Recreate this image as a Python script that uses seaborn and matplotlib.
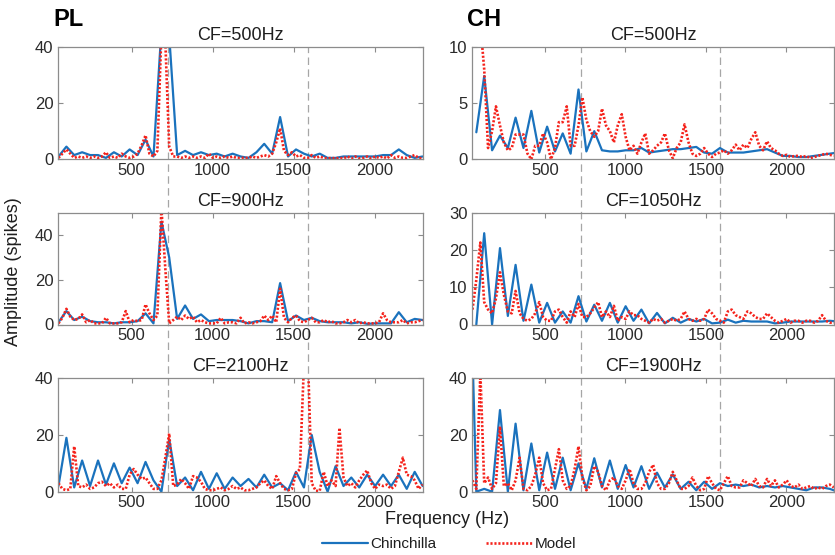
import numpy as np
import pandas as pd
import matplotlib
matplotlib.use("Agg")
import matplotlib.pyplot as plt
from matplotlib.lines import Line2D
import seaborn as sns

sns.set_theme(style="white")
plt.rcParams["font.family"] = ["Liberation Sans", "DejaVu Sans"]

# ---- frequency bins (Hz) ----
pl_chin_hz = [49, 98, 146, 195, 244, 293, 342, 391, 439, 488,
              537, 586, 635, 684, 732, 781, 830, 879, 928, 977,
              1025, 1074, 1123, 1172, 1221, 1270, 1318, 1367, 1416, 1465,
              1514, 1563, 1611, 1660, 1709, 1758, 1807, 1855, 1904, 1953,
              2002, 2051, 2100, 2148, 2197, 2246, 2295]

ch_chin_hz = [24, 73, 122, 171, 220, 269, 317, 366, 415, 464,
              513, 562, 610, 659, 708, 757, 806, 854, 903, 952,
              1001, 1050, 1099, 1147, 1196, 1245, 1294, 1343, 1392, 1440,
              1489, 1538, 1587, 1636, 1685, 1733, 1782, 1831, 1880, 1929,
              1978, 2026, 2075, 2124, 2173, 2222, 2270, 2319]

model_hz = [49, 73, 98, 122, 146, 171, 195, 220, 244, 269,
            293, 317, 342, 366, 391, 415, 439, 464, 488, 513,
            537, 562, 586, 610, 635, 659, 684, 708, 732, 757,
            781, 806, 830, 854, 879, 903, 928, 952, 977, 1001,
            1025, 1050, 1074, 1099, 1123, 1147, 1172, 1196, 1221, 1245,
            1270, 1294, 1318, 1343, 1367, 1392, 1416, 1440, 1465, 1489,
            1514, 1538, 1563, 1587, 1611, 1636, 1660, 1685, 1709, 1733,
            1758, 1782, 1807, 1831, 1855, 1880, 1904, 1929, 1953, 1978,
            2002, 2026, 2051, 2075, 2100, 2124, 2148, 2173, 2197, 2222,
            2246, 2270, 2295]

nan = np.nan

# ---- PL, CF = 500 Hz ----
pl500_chin = [1, 4.5, 1.5, 2.5, 1.5, 1.5, 0.5, 2.5, 1, 3.5,
              1.5, 7, 1, 46, 44, 1.5, 3, 1.5, 2.5, 1.5,
              2, 1, 2, 1, 0.5, 2.5, 5.5, 2, 15, 1,
              3.5, 2, 1, 2, 0.5, 0.5, 1, 1, 1, 1,
              1, 1.5, 1.5, 3.5, 1.5, 0.5, 1]
pl500_model = [0.5, 2, 3.5, 2, 0.5, 1, 0.5, 1, 0.5, 1,
               0.5, 1, 2.5, 0.5, 1, 0.5, 2, 1, 0.5, 1,
               2, 5, 8.5, 2, 1, 3, 45, 42, 4.5, 1,
               1, 0.5, 1, 0.5, 1, 0.5, 1, 0.5, 2, 0.5,
               1, 0.5, 1, 0.5, 1, 0.5, 0.5, 0.5, 0.5, 1,
               0.5, 1, 1.5, 1, 2, 6, 11, 3, 1.5, 2.5,
               1, 1.5, 0.5, 0.5, 1.5, 0.5, 1, 0.5, 0.3, 0.5,
               0.3, 0.5, 0.3, 1, 0.3, 1, 0.3, 0.5, 1, 0.3,
               1, 0.5, 1, 0.3, 1.5, 0.5, 1, 0.5, 0.5, 1,
               1.5, 0.5, 0.3]

# ---- PL, CF = 900 Hz ----
pl900_chin = [1, 6, 2, 3.5, 1.5, 1, 1, 0.5, 1, 1,
              1.5, 5, 0.5, 46, 30, 2.5, 8.5, 2.5, 4.5, 1.5,
              2, 2, 2, 1.5, 0.5, 1.5, 1.5, 1, 18.5, 1.5,
              4, 2, 3, 1.5, 1, 1, 1, 0.5, 1, 0.3,
              0.5, 0.5, 0.5, 5.5, 1, 2.5, 2]
pl900_model = [0.5, 3, 7, 3.5, 2, 2.5, 4.5, 1, 2, 0.5,
               0.5, 0.5, 3, 0.5, 0.5, 0.5, 1, 6, 1, 2,
               1.5, 2, 9, 5, 2, 4, 52, 25, 0.5, 2,
               3.5, 2, 4, 2.5, 3.5, 1, 2, 1, 0.5, 0.5,
               0.5, 3, 0.5, 1, 1, 0.5, 3, 0.5, 1, 0.5,
               1, 1.5, 4, 2, 4, 1, 16, 3, 1, 3,
               4, 1.5, 1, 2, 3, 1, 1, 2, 1, 1.5,
               0.5, 0.5, 1, 2, 1, 2, 0.5, 1, 0.5, 0.5,
               0.5, 1, 5, 2, 1, 1, 1, 2, 0.5, 1,
               1, 1.5, 2]

# ---- PL, CF = 2100 Hz ----
pl2100_chin = [2, 19, 1.5, 11, 2, 11, 2.5, 10, 3, 8.5,
               3, 10.5, 4, 0, 18.5, 2, 5, 0.5, 7, 1,
               6.5, 1, 5, 2, 4.5, 1.5, 6, 1.5, 3, 0.5,
               7, 1.5, 20, 7, 0, 9, 2, 5, 1.5, 6,
               2, 6, 2, 6, 1, 7, 2]
pl2100_model = [3, 1, 0.5, 1, 16, 2, 1.5, 2.5, 1, 1.5,
                3, 3.5, 2, 3, 1.5, 2.5, 1, 1, 6, 8,
                6, 4.5, 5, 3, 1, 1, 4, 12, 20.5, 2,
                2.5, 4.5, 3, 1, 5.5, 5, 3.5, 1, 0.5, 0.5,
                1, 1.5, 0.5, 1, 2, 1, 1.5, 0.5, 0.5, 1,
                1.5, 3, 4, 2, 1, 5.5, 3, 1, 0.5, 1,
                6.5, 8, 45, 48, 3, 0.3, 0.3, 7, 2, 4,
                2, 22.5, 5, 2, 3, 1.5, 4, 6, 7.5, 3,
                1, 2.5, 2, 2.5, 1, 2, 7, 12, 6, 5.5,
                4, 1, 2.5]

# ---- CH, CF = 500 Hz ----
ch500_chin = [nan, 2.4, 7.4, 0.8, 2.1, 1.0, 3.7, 1.0, 4.3, 0.6,
              2.9, 0.7, 2.3, 0.5, 6.2, 0.7, 2.5, 0.8, 0.7, 0.7,
              0.8, 0.8, 1.0, 0.6, 0.7, 0.8, 0.9, 0.9, 1.0, 1.1,
              0.6, 0.5, 1.0, 0.6, 0.6, 0.6, 0.7, 0.8, 0.9, 0.6,
              0.3, 0.3, 0.2, 0.2, 0.3, 0.4, 0.5, 0.6]
ch500_model = [nan, nan, 12, 8, 1, 2.5, 4.7, 3, 1.5, 0.8,
               1, 2.2, 2.2, 2.2, 0.5, 0, 1.2, 1.2, 2.3, 1.5,
               0, 1, 3.3, 3.3, 4.7, 1.2, 1.2, 3, 5.5, 3.5,
               2.5, 2, 2.5, 4.5, 3, 2.5, 1.5, 3, 4, 2,
               0.8, 1.2, 0.5, 1.5, 2.3, 0.5, 0.8, 1.2, 1.5, 2.3,
               0.8, 0.1, 1, 1.5, 3.1, 1.5, 0.5, 0.3, 0.5, 1,
               0.5, 0.2, 0.5, 0.6, 0.8, 0.5, 0.8, 1.3, 0.8, 1.3,
               1, 1.8, 2.4, 1.2, 0.8, 1.6, 1, 0.8, 0.5, 0.3,
               0.4, 0.2, 0.3, 0.3, 0.2, 0.3, 0.1, 0.2, 0.3, 0.4,
               0.5, 0.4, 0.3]

# ---- CH, CF = 1050 Hz ----
ch1050_chin = [nan, 0, 24.5, 0, 20.5, 2.3, 16, 1, 10.7, 0.5,
               5.8, 0.5, 3.5, 0.5, 7.6, 0.8, 5.3, 1, 5.8, 0.5,
               4.9, 1, 4, 0.3, 3.1, 0.3, 1.8, 0.5, 1.5, 0.8,
               1.5, 0.3, 0.5, 1.3, 0.5, 1, 0.8, 0.8, 0.8, 0.3,
               0.5, 0.8, 0.8, 0.8, 0.8, 0.8, 1, 0.8]
ch1050_model = [4, 12, 22, 6, 4, 3, 7, 14, 8, 3.5,
                3, 9, 3, 1.5, 1, 1.5, 3, 6, 2, 1,
                1, 3.5, 4, 2, 0.5, 3.5, 2, 5.5, 2, 2,
                3, 4.5, 6, 2, 3.5, 2, 5, 1, 2, 1.5,
                3.5, 2.5, 2.5, 1.5, 1, 0.5, 1.5, 1, 1.5, 0.5,
                1, 1.5, 1, 1.5, 3.5, 1.5, 1, 1.5, 1, 1.5,
                4, 3, 1.5, 1, 0.5, 3.5, 4, 2.5, 2, 1.5,
                3.5, 3, 2, 1.5, 1.5, 3, 2, 1, 0.5, 1,
                1.5, 0.5, 1, 1, 0.5, 1, 1, 0.5, 1, 2.5,
                1, 0.5, 0.5]

# ---- CH, CF = 1900 Hz ----
ch1900_chin = [100, 0, 1, 0, 28.8, 0, 24, 0.5, 17, 0.5,
               13.8, 1, 12, 0.5, 10, 1, 11.8, 1.5, 11, 1,
               9.4, 1.5, 9, 1, 6.7, 1.5, 6.1, 1, 3.5, 0.5,
               3.5, 1, 3, 2, 2.5, 2, 2.5, 1.5, 2, 1.5,
               2, 1.5, 1, 0.5, 1.5, 1.5, 1, 0]
ch1900_model = [4, 1, 42, 3, 5, 1, 3, 23, 2, 3,
                0.5, 4, 12, 1, 0.5, 2, 6, 12, 3, 0.5,
                1, 8, 15, 4, 1, 2, 8, 16, 5, 0.5,
                2, 9, 7, 2, 0.5, 4, 5, 2, 1, 4,
                8, 3, 1, 1, 3, 7, 9.5, 3, 1, 1,
                3, 7, 4, 1, 1, 2, 5, 2, 0.5, 1,
                5.5, 3, 1, 0.5, 3, 5.5, 2, 1.5, 1.5, 4,
                3, 2, 4.5, 2, 1.5, 4.5, 2, 4, 1.5, 2.5,
                4, 2, 1.5, 2.5, 1, 1.5, 2, 1, 1.5, 1,
                2, 2.5, 1.5]

titles = ["CF=500Hz", "CF=900Hz", "CF=2100Hz", "CF=500Hz", "CF=1050Hz", "CF=1900Hz"]
x_ticks = [500, 1000, 1500, 2000]
marker_hz = [725, 1590]

BLUE = "#1a72bd"
RED = "#f5221b"
SPINE = "#8c8c8c"
TXT = "#1e1e1e"
DOT = (0, (0.8, 0.7))
XLIM = (48, 2296)

W, H = 835, 555
fig = plt.figure(figsize=(W / 100, H / 100), dpi=100)
fig.patch.set_facecolor("white")

col_px = [(58.3, 364.5), (472.3, 361.7)]
row_px = [(46.7, 159.3), (212.7, 324.5), (378.3, 491.7)]

panels = [
    (0, 0, pl_chin_hz, pl500_chin, pl500_model, (0, 40), [0, 20, 40]),
    (0, 1, pl_chin_hz, pl900_chin, pl900_model, (0, 50), [0, 20, 40]),
    (0, 2, pl_chin_hz, pl2100_chin, pl2100_model, (0, 40), [0, 20, 40]),
    (1, 0, ch_chin_hz, ch500_chin, ch500_model, (0, 10), [0, 5, 10]),
    (1, 1, ch_chin_hz, ch1050_chin, ch1050_model, (0, 30), [0, 10, 20, 30]),
    (1, 2, ch_chin_hz, ch1900_chin, ch1900_model, (0, 40), [0, 20, 40]),
]

# dashed reference frequencies run through each whole column, behind the panels
for x0, w in col_px:
    top, bot = row_px[0][0], row_px[2][1]
    ov = fig.add_axes([x0 / W, 1 - bot / H, w / W, (bot - top) / H], zorder=1)
    ov.set_xlim(*XLIM)
    ov.set_ylim(0, 1)
    ov.axis("off")
    for f in marker_hz:
        ov.axvline(f, color="#a6a6a6", lw=0.9, linestyle=(0, (6, 3.5)))

for (col, row, chz, chin, model, ylim, yticks), title in zip(panels, titles):
    x0, w = col_px[col]
    top, bot = row_px[row]
    ax = fig.add_axes([x0 / W, 1 - bot / H, w / W, (bot - top) / H], zorder=2)
    ax.set_facecolor("none")

    assert len(chz) == len(chin) and len(model_hz) == len(model)
    dc = pd.DataFrame({"hz": chz, "amp": chin}).dropna()
    dm = pd.DataFrame({"hz": model_hz, "amp": model}).dropna()
    sns.lineplot(data=dc, x="hz", y="amp", ax=ax, color=BLUE, linewidth=1.6,
                 errorbar=None, estimator=None, sort=False)
    sns.lineplot(data=dm, x="hz", y="amp", ax=ax, color=RED, linewidth=1.9,
                 errorbar=None, estimator=None, sort=False, linestyle=DOT)

    ax.set_xlim(*XLIM)
    ax.set_ylim(*ylim)
    ax.set_xticks(x_ticks)
    ax.set_yticks(yticks)
    ax.set_xlabel("")
    ax.set_ylabel("")
    ax.tick_params(axis="both", direction="in", length=3.5, width=0.8, color=SPINE,
                   labelsize=12, labelcolor="#2a2a2a")
    ax.tick_params(axis="x", bottom=True, top=True, pad=2.5)
    ax.tick_params(axis="y", left=True, right=True, pad=3.5)
    for s in ax.spines.values():
        s.set_visible(True)
        s.set_color(SPINE)
        s.set_linewidth(0.9)
    ax.set_title(title, fontsize=13, color=TXT, pad=5)

fig.text(53 / W, 1 - 19 / H, "PL", fontsize=17, fontweight="bold", ha="left", va="center", color="black")
fig.text(467 / W, 1 - 19 / H, "CH", fontsize=17, fontweight="bold", ha="left", va="center", color="black")
fig.text(14 / W, 1 - 272 / H, "Amplitude (spikes)", fontsize=13, rotation=90,
         ha="center", va="center", color=TXT)
fig.text(447 / W, 1 - 519 / H, "Frequency (Hz)", fontsize=13, ha="center", va="center", color=TXT)

handles = [Line2D([], [], color=BLUE, lw=1.6),
           Line2D([], [], color=RED, lw=1.9, linestyle=DOT)]
fig.legend(handles, ["Chinchilla", "Model"], loc="center", bbox_to_anchor=(449 / W, 1 - 544 / H),
           ncol=2, frameon=False, fontsize=11, handlelength=3.0, handletextpad=0.2,
           columnspacing=3.2, labelcolor=TXT)

fig.savefig("out.png", dpi=100, facecolor="white")
